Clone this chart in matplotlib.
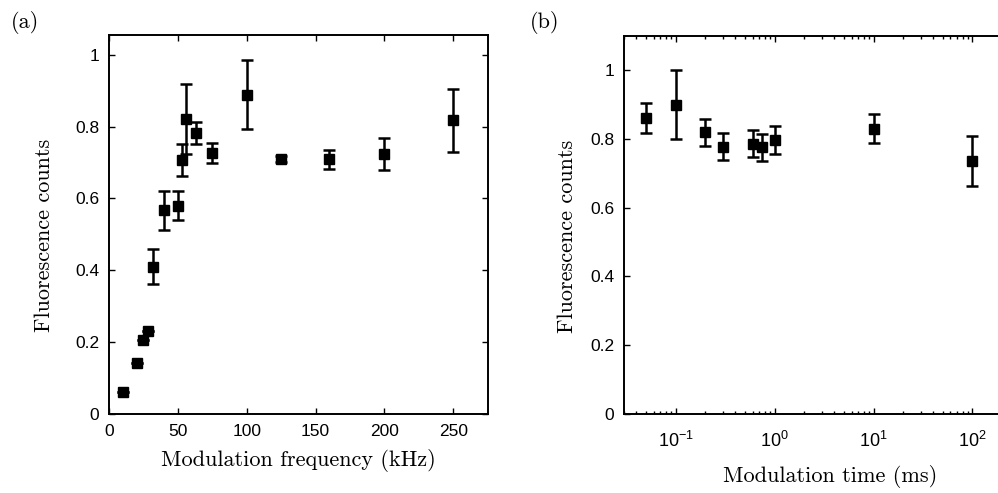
import numpy as np
import matplotlib.pyplot as plt
plt.switch_backend('agg')

plt.rcParams['font.family'] = ['Liberation Sans', 'DejaVu Sans']
plt.rcParams['mathtext.fontset'] = 'custom'
plt.rcParams['mathtext.rm'] = 'Liberation Sans'
plt.rcParams['mathtext.it'] = 'Liberation Sans:italic'
plt.rcParams['mathtext.bf'] = 'Liberation Sans:bold'

# (a) fluorescence vs modulation frequency
freq_khz = [10, 20, 25, 28, 32, 40, 50, 53, 56, 63, 75, 100, 125, 160, 200, 250]
counts_a = [0.062, 0.141, 0.206, 0.230, 0.410, 0.567, 0.580, 0.707, 0.821, 0.782,
            0.727, 0.889, 0.709, 0.709, 0.724, 0.817]
err_a = [0.0, 0.0, 0.0, 0.0, 0.049, 0.054, 0.040, 0.044, 0.097, 0.031,
         0.027, 0.097, 0.008, 0.026, 0.044, 0.087]

# (b) fluorescence vs modulation time
time_ms = [0.05, 0.1, 0.2, 0.3, 0.6, 0.75, 1.0, 10, 100]
counts_b = [0.860, 0.899, 0.819, 0.777, 0.786, 0.775, 0.796, 0.829, 0.735]
err_b = [0.043, 0.100, 0.040, 0.039, 0.039, 0.040, 0.041, 0.042, 0.073]

yticks = [0, 0.2, 0.4, 0.6, 0.8, 1]
yticklabels = ['0', '0.2', '0.4', '0.6', '0.8', '1']
xticks_a = [0, 50, 100, 150, 200, 250]

W, H = 998, 493
fig = plt.figure(figsize=(W / 100, H / 100), dpi=100)

ax1 = fig.add_axes([109 / W, (H - 414) / H, 378.7 / W, 379 / H])
# right panel runs past the figure edge, as in the original export
ax2 = fig.add_axes([624 / W, (H - 414) / H, 395.6 / W, 378.3 / H])

lab_font = dict(family='cmr10', fontsize=16)
tick_fs = 12.5


def style(ax):
    for s in ax.spines.values():
        s.set_linewidth(1.4)
    ax.tick_params(which='both', direction='in', top=True, right=True,
                   labelsize=tick_fs, width=1.0)
    ax.tick_params(which='major', length=4, pad=7)
    ax.tick_params(which='minor', length=2.5)


def draw(ax, x, y, e):
    ax.errorbar(x, y, yerr=e, fmt='s', color='black', ms=6.5, elinewidth=1.8,
                capsize=4.5, capthick=1.8, ecolor='black')


draw(ax1, freq_khz, counts_a, err_a)
ax1.set_xlim(0, 275)
ax1.set_ylim(0, 1.055)
ax1.set_xticks(xticks_a)
ax1.set_xticklabels([str(v) for v in xticks_a])
ax1.set_yticks(yticks)
ax1.set_yticklabels(yticklabels)
style(ax1)
ax1.set_xlabel('Modulation frequency (kHz)', **lab_font)
ax1.set_ylabel('Fluorescence counts', **lab_font)
ax1.xaxis.set_label_coords(0.5, -0.092)
ax1.yaxis.set_label_coords(-0.145, 0.47)

draw(ax2, time_ms, counts_b, err_b)
ax2.set_xscale('log')
ax2.set_xlim(0.03, 300)
ax2.set_ylim(0, 1.1)
ax2.set_yticks(yticks)
ax2.set_yticklabels(yticklabels)
ax2.set_xticks([0.1, 1, 10, 100])
style(ax2)
ax2.spines['right'].set_visible(False)
ax2.tick_params(which='both', right=False)
ax2.tick_params(axis='x', which='major', pad=12, labelsize=13)
ax2.set_xlabel('Modulation time (ms)', **lab_font)
ax2.set_ylabel('Fluorescence counts', **lab_font)
ax2.xaxis.set_label_coords((830 - 624) / 395.6, -0.135)
ax2.yaxis.set_label_coords(-0.119, 0.47)

fig.text(25 / W, 1 - 22 / H, '(a)', ha='center', va='center', **lab_font)
fig.text(545 / W, 1 - 22 / H, '(b)', ha='center', va='center', **lab_font)

fig.savefig('out.png', dpi=100)
plt.close('all')
